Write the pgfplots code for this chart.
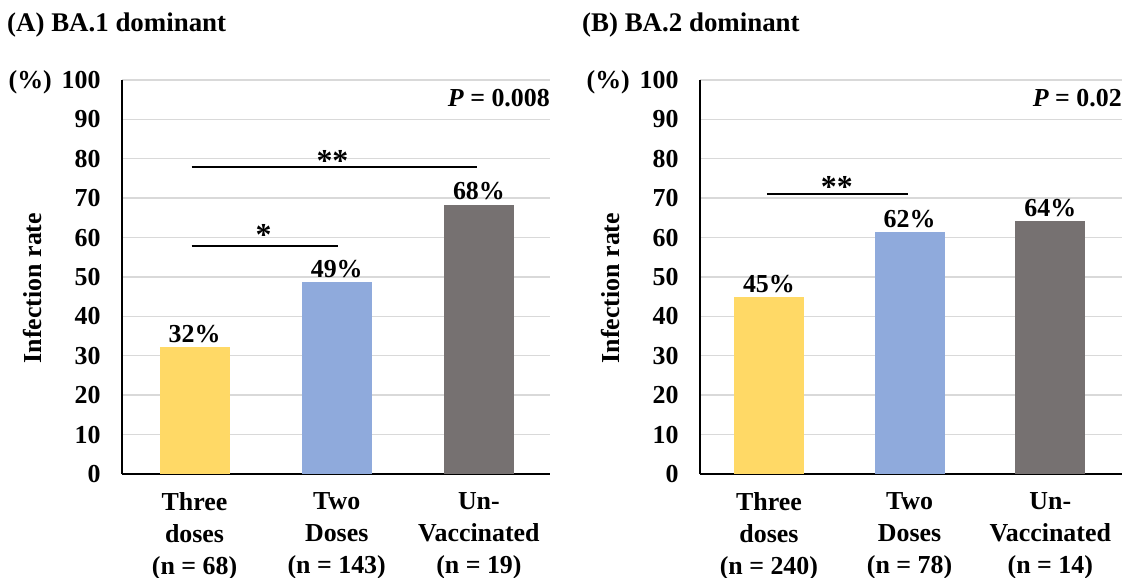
\documentclass[border=0pt]{standalone}
\usepackage{fontspec}
\setmainfont{Liberation Serif}
\usepackage{pgfplots}
\pgfplotsset{compat=1.18}
\definecolor{cYel}{HTML}{FFD966}
\definecolor{cBlu}{HTML}{8FAADC}
\definecolor{cGry}{HTML}{767171}
\definecolor{cGrid}{HTML}{D9D9D9}
\newcommand{\bigf}{\fontsize{26}{32}\selectfont\bfseries}
\newcommand{\titf}{\fontsize{27}{32}\selectfont\bfseries}
\newcommand{\starf}{\fontsize{32}{36}\selectfont\bfseries}
\pgfplotsset{
  panel/.style={
    scale only axis, height=394bp, ymin=0, ymax=100,
    ytick={0,10,...,100}, xtick={0,1,2},
    axis lines*=left,
    axis line style={line width=1.6bp, black},
    tick style={draw=none},
    major tick length=0pt,
    ymajorgrids, grid style={cGrid, line width=1.4bp},
    /pgf/number format/assume math mode=true,
    yticklabel style={font=\bigf, xshift=-18bp},
    xticklabel style={font=\bigf, align=center, yshift=-15bp},
    ylabel={Infection rate},
    ylabel style={font=\bigf, anchor=center},
    clip=false,
  },
  barval/.style={ybar, draw=none, fill=#1, bar width=70bp,
    point meta=explicit symbolic,
    nodes near coords={\pgfplotspointmeta\%},
    every node near coord/.append style={font=\bigf, anchor=base, yshift=5bp, text=black, inner sep=0pt}},
  brk/.style={black, line width=1.5bp, mark=none},
}
\begin{document}
\begin{tikzpicture}
\useasboundingbox (0,0) rectangle (1124bp,578bp);
\node[anchor=base west, font=\titf, inner sep=0pt] at (7bp,546bp) {(A) BA.1 dominant};
\node[anchor=base west, font=\titf, inner sep=0pt] at (582bp,546bp) {(B) BA.2 dominant};

% ---------- Panel A ----------
\begin{axis}[panel, at={(122bp,104bp)}, anchor=south west,
  width=428bp, xmin=-0.51, xmax=2.5,
  xticklabels={{Three\\doses\\(n = 68)},{Two\\Doses\\(n = 143)},{Un-\\Vaccinated\\(n = 19)}},
  ylabel style={at={(axis description cs:-0.208,0.472)}},
]
\addplot[barval=cYel] coordinates {(0,32.2) [32]};
\addplot[barval=cBlu] coordinates {(1,48.7) [49]};
\addplot[barval=cGry] coordinates {(2,68.3) [68]};
\addplot[brk] coordinates {(-0.02,77.9) (1.99,77.9)};
\addplot[brk] coordinates {(-0.02,57.9) (1.01,57.9)};
\node[font=\starf, anchor=base, inner sep=0pt] at (axis cs:0.97,76.8) {**};
\node[font=\starf, anchor=base, inner sep=0pt] at (axis cs:0.485,58.1) {*};
\node[font=\bigf, anchor=base east, inner sep=0pt] at ([xshift=-70bp,yshift=-9bp]rel axis cs:0,1) {(\%)};
\node[font=\bigf, anchor=base east, inner sep=0pt] at ([yshift=-27bp]rel axis cs:1,1) {\textit{P} = 0.008};
\end{axis}

% ---------- Panel B ----------
\begin{axis}[panel, at={(700bp,104bp)}, anchor=south west,
  width=422bp, xmin=-0.49, xmax=2.51,
  xticklabels={{Three\\doses\\(n = 240)},{Two\\Doses\\(n = 78)},{Un-\\Vaccinated\\(n = 14)}},
  ylabel style={at={(axis description cs:-0.211,0.472)}},
]
\addplot[barval=cYel] coordinates {(0,44.9) [45]};
\addplot[barval=cBlu] coordinates {(1,61.4) [62]};
\addplot[barval=cGry] coordinates {(2,64.2) [64]};
\addplot[brk] coordinates {(-0.015,71.1) (0.99,71.1)};
\node[font=\starf, anchor=base, inner sep=0pt] at (axis cs:0.483,70.3) {**};
\node[font=\bigf, anchor=base east, inner sep=0pt] at ([xshift=-70bp,yshift=-9bp]rel axis cs:0,1) {(\%)};
\node[font=\bigf, anchor=base east, inner sep=0pt] at ([yshift=-27bp]rel axis cs:1,1) {\textit{P} = 0.02};
\end{axis}
\end{tikzpicture}
\end{document}
